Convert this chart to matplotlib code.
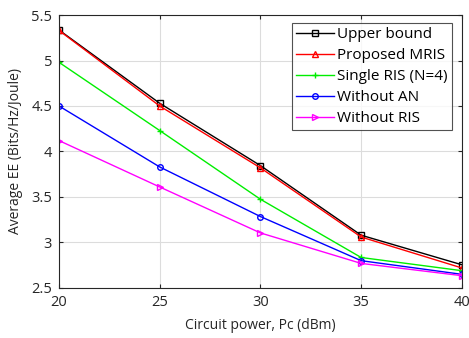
import matplotlib
matplotlib.use("Agg")
import matplotlib.pyplot as plt

pc = [20, 25, 30, 35, 40]
upper = [5.335, 4.53, 3.845, 3.08, 2.755]
proposed = [5.33, 4.50, 3.82, 3.06, 2.72]
single = [4.98, 4.23, 3.475, 2.835, 2.69]
no_an = [4.50, 3.83, 3.285, 2.80, 2.65]
no_ris = [4.12, 3.61, 3.105, 2.77, 2.635]

labels = ["Upper bound", "Proposed MRIS", "Single RIS (N=4)", "Without AN", "Without RIS"]
colors = ["black", "red", "#00ee00", "blue", "magenta"]
markers = ["s", "^", "+", "o", ">"]
series = [upper, proposed, single, no_an, no_ris]

plt.rcParams['font.family'] = ['Open Sans', 'DejaVu Sans']
fig = plt.figure(figsize=(4.69, 3.38), dpi=100)
ax = fig.add_axes([0.1258, 0.148, 0.859, 0.8076])
for s, lab, c, m in zip(series, labels, colors, markers):
    ax.plot(pc, s, color=c, marker=m, markersize=4, markerfacecolor='none',
            markeredgecolor=c, linewidth=1.0, label=lab)

ax.set_xlim(20, 40)
ax.set_ylim(2.5, 5.5)
ax.set_xticks([20, 25, 30, 35, 40])
ax.set_yticks([2.5, 3, 3.5, 4, 4.5, 5, 5.5])
ax.set_yticklabels(["2.5", "3", "3.5", "4", "4.5", "5", "5.5"])
ax.grid(True, color='#dcdcdc', linewidth=0.8)
ax.set_axisbelow(True)
ax.tick_params(direction='in', labelsize=10.5, colors='#262626', length=3, top=True, right=True, pad=5)
for sp in ax.spines.values():
    sp.set_color('#262626')
    sp.set_linewidth(0.8)
ax.set_xlabel("Circuit power, Pc (dBm)", fontsize=10, color='#262626', labelpad=6)
ax.set_ylabel("Average EE (Bits/Hz/Joule)", fontsize=10, color='#262626', labelpad=6)
leg = ax.legend(loc='upper right', fontsize=11, fancybox=False, edgecolor='#262626',
                handlelength=2.5, borderpad=0.25, labelspacing=0.4, handletextpad=0.2,
                borderaxespad=0, bbox_to_anchor=(0.975, 0.97))
leg.get_frame().set_linewidth(0.8)
fig.savefig("out.png", dpi=100)
